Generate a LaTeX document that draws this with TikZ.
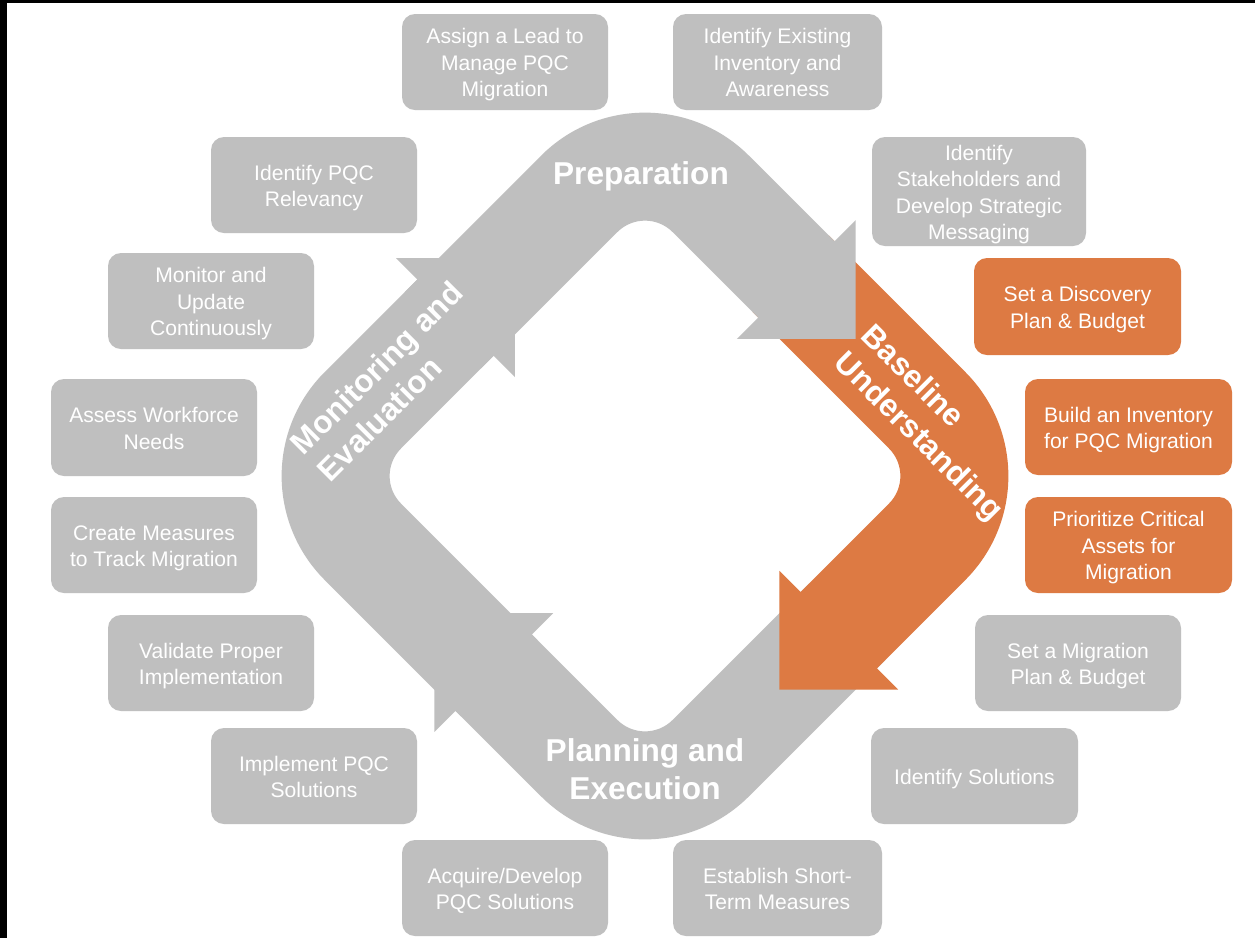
\documentclass[tikz,border=0pt]{standalone}
\usepackage{fontspec}
\setmainfont{Liberation Sans}
\definecolor{cgray}{RGB}{191,191,191}
\definecolor{corange}{RGB}{221,122,67}
\newcommand\boxtop{\rule{0pt}{12.3pt}}
\tikzset{
  wh/.style 2 args={minimum width=#1*0.02cm, minimum height=#2*0.02cm},
  gbox/.style={rectangle, fill=cgray, rounded corners=0.26cm, text=white, align=center,
    inner sep=0pt, font=\fontsize{12}{15.1}\selectfont,
    execute at end node={\rule[-2.76pt]{0pt}{2.76pt}}},
  obox/.style={gbox, fill=corange},
  lbl/.style={text=white, inner sep=0pt, font=\fontsize{18}{21.6}\selectfont\bfseries}
}
\begin{document}
\begin{tikzpicture}[x=0.02cm, y=-0.02cm]
\useasboundingbox (0,0) rectangle (1255,938);
\fill[black] (0,0) rectangle (1255,938);
\fill[white] (7,3) rectangle (1255,938);

% cycle arrows: tail, corner, head (tip offset \t past the corner axis)
\coordinate (C) at (645,476);
\begin{scope}[shift={(C)}, x=0.02cm, y=0.02cm, rotate=45]
  \foreach \ang/\col/\t in {180/cgray/52, 90/cgray/62, -90/corange/56, 0/cgray/52} {
    \pgfmathsetmacro\hb{84-\t}
    \fill[\col, rotate=\ang] (-40,300) -- (153,300) arc[start angle=90, end angle=0, radius=147]
      -- (300,\hb) -- (330,\hb) -- (246,-\t) -- (162,\hb) -- (192,\hb) -- (192,153)
      arc[start angle=0, end angle=90, radius=39] -- (-40,192) -- cycle;
  }
\end{scope}

\node[lbl, anchor=base] (prep) at (641,184) {Preparation};
\node[lbl, align=center] (plan) at (645,769) {Planning and\\Execution};
\node[lbl, align=left, rotate=-45] (basel) at (931,424) {Baseline\\Understanding};
\node[lbl, align=left, rotate=45] (mon) at (390,381) {Monitoring and\\Evaluation};

% boxes
\node[gbox, wh={206}{96}] (b1) at (505,62) {\boxtop Assign a Lead to\\Manage PQC\\Migration};
\node[gbox, wh={209}{96}] (b2) at (777.5,62) {\boxtop Identify Existing\\Inventory and\\Awareness};
\node[gbox, wh={214}{109}] (b3) at (979,191.5) {\boxtop Identify\\Stakeholders and\\Develop Strategic\\Messaging};
\node[obox, wh={207}{97}] (b4) at (1077.5,306.5) {\boxtop Set a Discovery\\Plan \& Budget};
\node[obox, wh={207}{96}] (b5) at (1128.5,427) {\boxtop Build an Inventory\\for PQC Migration};
\node[obox, wh={207}{96}] (b6) at (1128.5,545) {\boxtop Prioritize Critical\\Assets for\\Migration};
\node[gbox, wh={206}{96}] (b7) at (1078,663) {\boxtop Set a Migration\\Plan \& Budget};
\node[gbox, wh={207}{96}] (b8) at (974.5,776) {\boxtop Identify Solutions};
\node[gbox, wh={209}{96}] (b9) at (777.5,888) {\boxtop Establish Short-\\Term Measures};
\node[gbox, wh={206}{96}] (b10) at (505,888) {\boxtop Acquire/Develop\\PQC Solutions};
\node[gbox, wh={206}{96}] (b11) at (314,776) {\boxtop Implement PQC\\Solutions};
\node[gbox, wh={206}{96}] (b12) at (211,663) {\boxtop Validate Proper\\Implementation};
\node[gbox, wh={206}{96}] (b13) at (154,545) {\boxtop Create Measures\\to Track Migration};
\node[gbox, wh={206}{97}] (b14) at (154,427.5) {\boxtop Assess Workforce\\Needs};
\node[gbox, wh={206}{96}] (b15) at (211,301) {\boxtop Monitor and\\Update\\Continuously};
\node[gbox, wh={206}{96}] (b16) at (314,185) {\boxtop Identify PQC\\Relevancy};
\end{tikzpicture}
\end{document}
